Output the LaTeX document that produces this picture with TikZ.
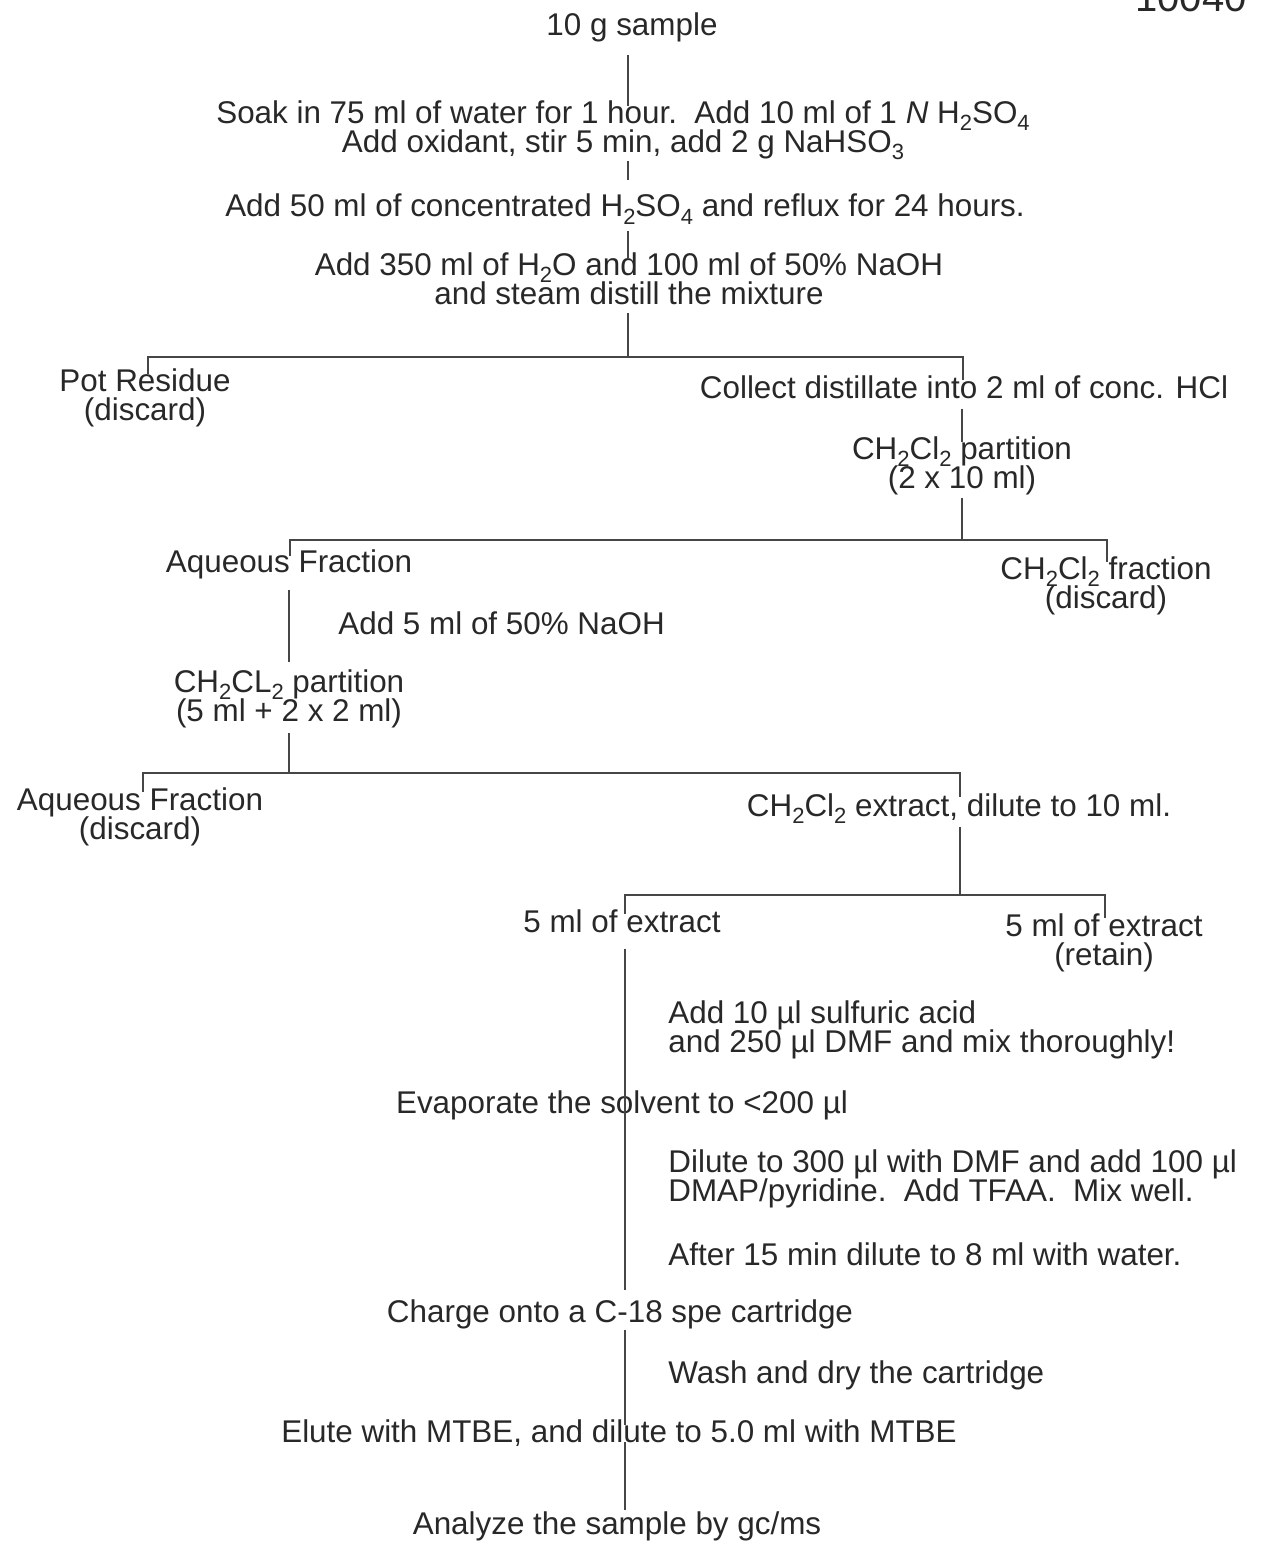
\documentclass[tikz,border=0pt]{standalone}
\usepackage{fontspec}
\setmainfont{Liberation Sans}
\newcommand{\sbs}[1]{\raisebox{-0.24em}{\fontsize{11}{11}\selectfont #1}}
\newcommand{\nodefont}{\fontsize{15.7}{14.5}\selectfont\lineskiplimit=-20pt\relax\lineskip=0pt\relax}
\definecolor{txt}{RGB}{40,40,40}
\definecolor{ln}{RGB}{70,70,70}
\begin{document}
\begin{tikzpicture}[x=0.5pt,y=-0.5pt,
  every node/.style={inner sep=0pt, text=txt, font=\nodefont},
  lbl/.style={align=center},
  lft/.style={align=left},
  conn/.style={draw=ln, line width=0.8pt}]
\fill[white] (0,0) rectangle (1261,1567);
\useasboundingbox (0,0) rectangle (1261,1567);

% page id (cut off at top)
\node[anchor=base east, font=\fontsize{20}{20}\selectfont] (pid) at (1247,12) {10040};

% junction coordinates
\coordinate (j1) at (628,357);
\coordinate (bl1) at (148,357);
\coordinate (br1) at (963,357);
\coordinate (j2) at (962,540);
\coordinate (bl2) at (290,540);
\coordinate (br2) at (1107,540);
\coordinate (j3) at (289,773);
\coordinate (bl3) at (143,773);
\coordinate (br3) at (960,773);
\coordinate (j4) at (960,895);
\coordinate (bl4) at (625,895);
\coordinate (br4) at (1105,895);

% text nodes
\node[anchor=base] (sample) at (632,36) {10 g sample};
\node[lbl, anchor=north] (soak) at (623,100) {Soak in 75 ml of water for 1 hour.\ \ Add 10 ml of 1 \textit{N} H\sbs{2}SO\sbs{4}\\Add oxidant, stir 5 min, add 2 g NaHSO\sbs{3}};
\node[anchor=base] (conc) at (625,217) {Add 50 ml of concentrated H\sbs{2}SO\sbs{4} and reflux for 24 hours.};
\node[lbl, anchor=north] (naoh) at (629,252) {Add 350 ml of H\sbs{2}O and 100 ml of 50\% NaOH\\and steam distill the mixture};
\node[lbl, anchor=north] (pot) at (145,368) {Pot Residue\\(discard)};
\node[anchor=base] (collect) at (964,398) {Collect distillate into 2 ml of conc. HCl};
\node[lbl, anchor=north] (part1) at (962,436) {CH\sbs{2}Cl\sbs{2} partition\\(2 x 10 ml)};
\node[anchor=base] (aq1) at (289,572) {Aqueous Fraction};
\node[lbl, anchor=north] (chfrac) at (1106,556) {CH\sbs{2}Cl\sbs{2} fraction\\(discard)};
\node[anchor=base west] (add5) at (338,634) {Add 5 ml of 50\% NaOH};
\node[lbl, anchor=north] (part2) at (289,669) {CH\sbs{2}CL\sbs{2} partition\\(5 ml + 2 x 2 ml)};
\node[lbl, anchor=north] (aq2) at (140,787) {Aqueous Fraction\\(discard)};
\node[anchor=base] (extract) at (959,816) {CH\sbs{2}Cl\sbs{2} extract, dilute to 10 ml.};
\node[anchor=base] (ext5a) at (622,932) {5 ml of extract};
\node[lbl, anchor=north] (ext5b) at (1104,913) {5 ml of extract\\(retain)};
\node[lft, anchor=north west] (sulf) at (668,1000) {Add 10 µl sulfuric acid\\and 250 µl DMF and mix thoroughly!};
\node[anchor=base] (evap) at (622,1113) {Evaporate the solvent to <200 µl};
\node[lft, anchor=north west] (dilute) at (668,1149) {Dilute to 300 µl with DMF and add 100 µl\\DMAP/pyridine.\ \ Add TFAA.\ \ Mix well.};
\node[anchor=base west] (after) at (668,1265) {After 15 min dilute to 8 ml with water.};
\node[anchor=base] (charge) at (620,1322) {Charge onto a C-18 spe cartridge};
\node[anchor=base west] (wash) at (668,1383) {Wash and dry the cartridge};
\node[anchor=base] (elute) at (619,1442) {Elute with MTBE, and dilute to 5.0 ml with MTBE};
\node[anchor=base] (analyze) at (617,1534) {Analyze the sample by gc/ms};

% connectors: main spine
\draw[conn, shorten <=6pt, shorten >=-3pt] (j1 |- sample.south) -- (j1 |- soak.north);
\draw[conn, shorten <=0.5pt, shorten >=7pt] (j1 |- soak.south) -- (j1 |- conc.north);
\draw[conn, shorten <=3pt, shorten >=-3pt] (j1 |- conc.south) -- (j1 |- naoh.north);
\draw[conn, shorten <=4pt] (j1 |- naoh.south) -- (j1);
\draw[conn, shorten <=-3pt, shorten >=-2.5pt] (bl1 |- pot.north) -- (bl1) -- (br1) -- (br1 |- collect.north);

\draw[conn, shorten <=5pt, shorten >=-3pt] (j2 |- collect.south) -- (j2 |- part1.north);
\draw[conn, shorten <=1.5pt] (j2 |- part1.south) -- (j2);
\draw[conn, shorten <=-3.5pt, shorten >=-3pt] (bl2 |- aq1.north) -- (bl2) -- (br2) -- (br2 |- chfrac.north);

\draw[conn, shorten <=5.5pt, shorten >=3.5pt] (j3 |- aq1.south) -- (j3 |- part2.north);
\draw[conn, shorten <=2.5pt] (j3 |- part2.south) -- (j3);
\draw[conn, shorten <=-2.5pt, shorten >=-2pt] (bl3 |- aq2.north) -- (bl3) -- (br3) -- (br3 |- extract.north);

\draw[conn, shorten <=1.5pt] (j4 |- extract.south) -- (j4);
\draw[conn, shorten <=-2.5pt, shorten >=-2.5pt] (bl4 |- ext5a.north) -- (bl4) -- (br4) -- (br4 |- ext5b.north);

\draw[conn, shorten <=8pt, shorten >=4.5pt] (bl4 |- ext5a.south) -- (bl4 |- charge.north);
\draw[conn, shorten <=0.5pt, shorten >=-3pt] (bl4 |- charge.south) -- (bl4 |- elute.north);
\draw[conn, shorten <=-2pt, shorten >=0.5pt] (bl4 |- elute.south) -- (bl4 |- analyze.north);
\end{tikzpicture}
\end{document}
